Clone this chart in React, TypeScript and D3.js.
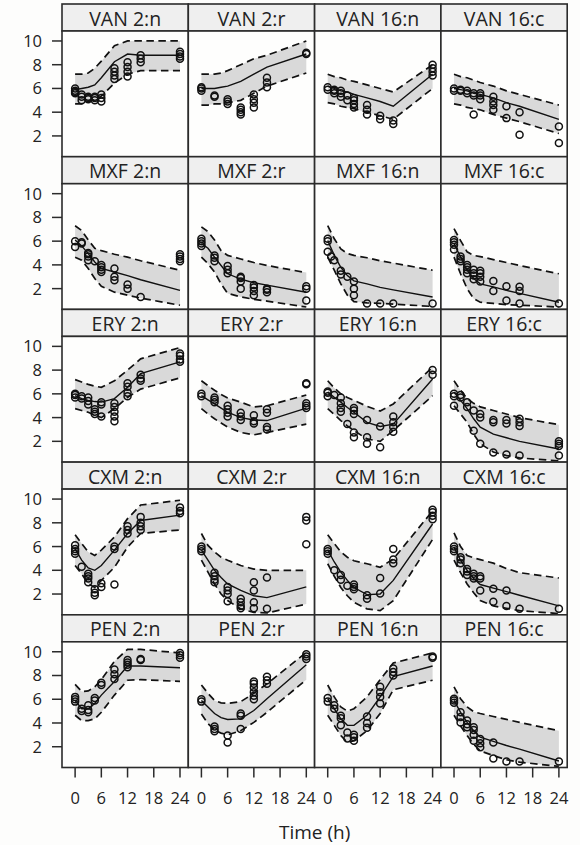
import React from "react";
import * as d3 from "d3";

// panels are drug (rows) x regimen (columns)
const drugs = ["VAN", "MXF", "ERY", "CXM", "PEN"];
const regimens = ["2:n", "2:r", "16:n", "16:c"];

const xTicks = [0, 6, 12, 18, 24];
const yTicks = [2, 4, 6, 8, 10];

// times at which the prediction interval is drawn
const knotTimes = [0, 1.5, 3, 4.5, 6, 9, 12, 15, 24];

// 95% PI upper bound, one row per panel (row-major)
const upper = [
  [7.2, 7.2, 7.3, 7.7, 8.3, 9.6, 10.0, 10.0, 10.0],
  [7.2, 7.2, 7.2, 7.3, 7.5, 8.0, 8.5, 8.8, 10.0],
  [7.2, 7.0, 6.9, 6.7, 6.6, 6.3, 6.0, 5.7, 8.0],
  [7.2, 7.0, 6.9, 6.7, 6.5, 6.2, 5.8, 5.5, 4.6],
  [7.3, 6.9, 6.1, 5.4, 5.2, 4.9, 4.65, 4.35, 3.55],
  [7.2, 6.8, 6.1, 5.2, 4.8, 4.5, 4.2, 3.95, 3.35],
  [7.3, 6.2, 5.35, 4.95, 4.8, 4.6, 4.35, 4.15, 3.55],
  [7.05, 6.05, 5.1, 4.8, 4.7, 4.45, 4.2, 3.95, 3.25],
  [7.2, 7.0, 6.8, 6.65, 6.55, 7.1, 8.0, 8.95, 9.9],
  [7.1, 6.7, 6.3, 5.95, 5.65, 5.3, 4.9, 5.0, 5.9],
  [7.1, 6.5, 6.0, 5.7, 5.45, 4.95, 4.55, 5.15, 8.25],
  [7.1, 6.3, 5.6, 5.2, 4.9, 4.6, 4.3, 4.0, 3.4],
  [7.0, 6.25, 5.55, 5.25, 5.7, 6.8, 8.35, 9.5, 9.9],
  [7.1, 6.1, 5.55, 5.1, 4.85, 4.4, 4.1, 4.0, 4.0],
  [7.0, 6.25, 5.55, 5.1, 4.8, 4.55, 4.25, 4.95, 9.0],
  [7.15, 6.0, 5.25, 5.05, 4.9, 4.6, 4.15, 3.8, 3.35],
  [7.25, 6.65, 6.7, 7.05, 7.65, 9.2, 10.2, 10.2, 9.9],
  [7.2, 6.5, 5.9, 5.7, 5.65, 5.8, 6.5, 7.3, 9.95],
  [7.2, 6.2, 5.35, 5.0, 5.2, 6.2, 7.65, 9.05, 9.9],
  [7.05, 6.05, 5.35, 4.95, 4.8, 4.55, 4.3, 4.05, 3.35],
];

// median prediction
const median = [
  [5.9, 6.0, 6.1, 6.3, 6.9, 8.25, 8.9, 8.8, 8.8],
  [6.0, 6.0, 6.0, 6.1, 6.2, 6.6, 7.2, 7.8, 8.9],
  [6.2, 6.0, 5.8, 5.7, 5.5, 5.2, 4.9, 4.5, 7.2],
  [6.0, 5.9, 5.8, 5.6, 5.5, 5.2, 4.8, 4.5, 3.4],
  [6.1, 5.6, 4.95, 4.25, 3.7, 3.4, 3.1, 2.75, 1.85],
  [5.8, 5.4, 4.65, 3.95, 3.25, 2.8, 2.5, 2.3, 1.7],
  [6.05, 4.8, 3.8, 3.1, 2.65, 2.4, 2.1, 1.9, 1.3],
  [5.8, 4.65, 3.55, 2.85, 2.4, 2.15, 1.85, 1.6, 0.85],
  [5.85, 5.6, 5.45, 5.35, 5.3, 5.6, 6.55, 7.7, 8.7],
  [5.85, 5.5, 5.15, 4.8, 4.45, 4.0, 3.8, 3.75, 4.8],
  [6.15, 5.7, 5.3, 4.85, 4.45, 3.6, 3.25, 3.45, 7.25],
  [6.15, 5.45, 4.75, 3.9, 3.2, 2.6, 2.3, 2.0, 1.35],
  [5.8, 4.85, 4.2, 4.0, 4.4, 5.7, 7.1, 8.2, 8.65],
  [5.7, 4.85, 4.0, 3.4, 2.85, 2.3, 1.85, 1.7, 2.6],
  [5.7, 4.7, 3.85, 3.15, 2.55, 1.95, 2.0, 3.15, 7.9],
  [5.95, 4.85, 4.0, 3.3, 2.8, 2.5, 2.2, 1.9, 1.0],
  [5.9, 5.2, 5.2, 5.65, 6.35, 7.5, 8.8, 8.8, 8.65],
  [5.9, 5.35, 4.8, 4.45, 4.3, 4.35, 5.05, 6.05, 8.9],
  [6.05, 5.2, 4.35, 3.8, 3.8, 4.65, 6.2, 7.9, 8.8],
  [5.9, 4.9, 4.05, 3.35, 2.8, 2.45, 2.1, 1.8, 0.8],
];

// 95% PI lower bound
const lower = [
  [4.7, 4.7, 4.9, 5.05, 5.35, 6.45, 7.2, 7.5, 7.5],
  [4.6, 4.6, 4.7, 4.7, 4.8, 5.0, 5.6, 6.2, 7.3],
  [4.8, 4.7, 4.5, 4.4, 4.3, 4.0, 3.7, 3.4, 6.0],
  [4.7, 4.6, 4.4, 4.3, 4.2, 3.8, 3.5, 3.2, 2.2],
  [4.65, 4.4, 3.7, 2.85, 2.2, 1.7, 1.45, 1.2, 0.6],
  [4.65, 4.1, 3.4, 2.4, 1.6, 1.3, 1.1, 0.95, 0.45],
  [4.65, 3.55, 2.4, 1.45, 0.9, 0.8, 0.75, 0.7, 0.5],
  [4.65, 3.25, 2.0, 1.15, 0.85, 0.75, 0.65, 0.6, 0.45],
  [4.75, 4.6, 4.45, 4.2, 4.0, 4.75, 5.7, 6.4, 7.35],
  [4.75, 4.3, 3.9, 3.55, 3.2, 2.75, 2.55, 2.75, 3.45],
  [4.75, 4.25, 3.75, 3.3, 2.9, 2.2, 2.0, 2.9, 5.85],
  [5.0, 4.3, 3.6, 2.6, 1.8, 1.1, 0.8, 0.6, 0.35],
  [4.4, 3.7, 2.85, 2.55, 3.15, 4.25, 5.95, 7.1, 7.4],
  [4.85, 3.85, 2.85, 2.0, 1.45, 0.75, 0.45, 0.4, 1.15],
  [4.55, 3.5, 2.55, 1.85, 1.3, 0.75, 0.6, 1.45, 6.6],
  [4.85, 3.8, 2.85, 2.1, 1.45, 1.0, 0.8, 0.6, 0.35],
  [4.65, 4.2, 4.2, 4.35, 4.9, 6.35, 7.6, 7.65, 7.5],
  [4.75, 3.95, 3.4, 3.15, 3.0, 3.35, 4.05, 4.9, 7.65],
  [4.65, 3.8, 2.95, 2.35, 2.5, 3.35, 4.8, 6.8, 7.6],
  [4.65, 3.75, 2.95, 2.2, 1.65, 1.25, 0.9, 0.7, 0.35],
];

// observed log10 CFU/mL, [time, value]
const observed: [number, number][][] = [
  [[0,5.6],[0,5.8],[0,6.0],[0,5.7],[1.5,5.0],[1.5,5.3],[1.5,5.5],[3,5.1],[3,5.2],[3,5.3],[4.5,5.0],[4.5,5.2],[4.5,5.3],[6,4.9],[6,5.2],[6,5.5],[9,6.8],[9,7.1],[9,7.4],[9,7.7],[12,7.0],[12,7.4],[12,7.8],[12,8.2],[15,8.2],[15,8.5],[15,8.8],[24,8.5],[24,8.7],[24,8.9],[24,9.1]],
  [[0,5.8],[0,6.0],[0,6.1],[3,5.3],[3,5.4],[6,4.7],[6,4.9],[6,5.1],[9,3.8],[9,4.0],[9,4.2],[9,4.4],[12,4.4],[12,4.8],[12,5.1],[12,5.5],[15,6.1],[15,6.5],[15,6.9],[24,8.9],[24,9.0]],
  [[0,5.9],[0,6.1],[1.5,5.6],[1.5,5.8],[1.5,5.9],[3,5.3],[3,5.6],[3,5.8],[4.5,5.0],[4.5,5.4],[6,4.4],[6,4.7],[6,5.0],[6,5.2],[9,3.8],[9,4.2],[9,4.6],[12,3.4],[12,3.7],[15,3.0],[15,3.3],[24,7.1],[24,7.4],[24,7.7],[24,8.0]],
  [[0,5.8],[0,6.0],[1.5,5.8],[1.5,5.9],[3,5.6],[3,5.8],[4.5,5.4],[4.5,5.6],[4.5,3.8],[6,5.1],[6,5.4],[6,5.6],[9,4.2],[9,4.6],[9,4.9],[9,5.3],[12,4.5],[12,3.5],[15,4.0],[15,2.1],[24,2.8],[24,1.4]],
  [[0,5.5],[0,6.0],[1.5,5.8],[1.5,5.9],[3,4.4],[3,4.7],[3,4.9],[3,5.0],[4.5,4.3],[6,3.4],[6,3.6],[6,3.8],[6,4.0],[9,2.7],[9,3.0],[9,3.7],[12,2.0],[12,2.35],[15,1.3],[24,4.3],[24,4.5],[24,4.7],[24,4.9]],
  [[0,5.6],[0,5.8],[0,6.0],[0,6.2],[3,4.3],[3,4.6],[3,4.8],[6,3.3],[6,3.6],[6,3.9],[9,2.0],[9,2.6],[9,2.9],[9,3.0],[12,1.45],[12,1.8],[12,2.1],[12,2.3],[15,1.7],[15,1.9],[15,2.0],[24,1.0],[24,2.0],[24,2.2]],
  [[0,6.0],[0,6.2],[0,5.1],[0.8,4.7],[1.5,4.4],[3,3.5],[3,3.2],[4.5,3.0],[6,2.6],[6,2.0],[6,1.45],[9,0.75],[12,0.75],[15,0.75],[24,0.75]],
  [[0,5.3],[0,5.7],[0,5.9],[0,6.1],[1.5,4.3],[1.5,4.5],[1.5,4.7],[3,3.3],[3,3.6],[3,3.8],[3,4.0],[4.5,2.8],[4.5,3.1],[4.5,3.3],[4.5,3.6],[6,2.6],[6,3.0],[6,3.3],[6,3.5],[9,2.65],[9,1.8],[12,2.2],[12,1.0],[15,2.15],[15,1.8],[15,0.75],[24,0.75]],
  [[0,5.7],[0,5.9],[0,6.0],[1.5,5.6],[1.5,5.8],[3,5.1],[3,5.4],[3,5.7],[4.5,4.3],[4.5,4.5],[4.5,4.7],[6,4.1],[6,5.1],[6,5.3],[9,3.7],[9,4.1],[9,4.5],[9,4.9],[9,5.2],[12,5.8],[12,6.1],[12,6.6],[12,6.9],[15,7.1],[15,7.3],[15,7.6],[24,8.7],[24,8.9],[24,9.2],[24,9.4]],
  [[0,5.8],[0,6.0],[3,5.3],[3,5.5],[3,5.7],[6,4.1],[6,4.4],[6,4.7],[6,5.0],[9,3.8],[9,4.1],[9,4.4],[12,3.5],[12,3.7],[12,4.2],[15,3.0],[15,3.2],[15,4.4],[15,4.7],[24,6.8],[24,6.9],[24,4.8],[24,5.0],[24,5.2]],
  [[0,5.8],[0,6.1],[0,6.2],[1.5,5.9],[3,5.7],[3,5.2],[3,4.8],[3,4.5],[4.5,3.45],[6,4.3],[6,4.6],[6,4.8],[6,2.75],[6,2.35],[9,3.8],[9,2.35],[9,1.8],[12,3.25],[12,1.5],[15,2.8],[15,3.2],[15,3.6],[15,4.1],[24,7.6],[24,8.0]],
  [[0,5.8],[0,6.0],[0,5.0],[1.5,5.7],[1.5,5.9],[3,4.9],[3,5.3],[4.5,4.6],[4.5,2.9],[6,4.0],[6,4.3],[6,1.8],[9,3.6],[9,3.8],[9,1.05],[12,3.5],[12,3.8],[12,0.9],[15,3.3],[15,3.6],[15,3.9],[15,0.8],[24,1.6],[24,1.8],[24,2.0],[24,0.8]],
  [[0,5.4],[0,5.6],[0,5.8],[0,6.1],[1.5,4.3],[3,3.0],[3,3.3],[3,3.5],[3,3.7],[4.5,1.9],[4.5,2.1],[4.5,2.4],[6,2.6],[6,2.9],[9,5.8],[9,6.0],[9,2.8],[12,7.1],[12,7.4],[12,7.7],[15,7.4],[15,7.7],[15,8.0],[15,8.5],[24,8.8],[24,9.0],[24,9.3]],
  [[0,5.6],[0,5.8],[0,6.0],[3,3.0],[3,3.2],[3,3.5],[3,3.8],[6,1.4],[6,2.0],[6,2.3],[6,2.6],[9,0.8],[9,1.0],[9,1.3],[9,1.6],[12,0.8],[12,1.3],[12,2.3],[12,3.0],[15,3.4],[15,0.75],[24,8.2],[24,8.5],[24,6.2]],
  [[0,5.4],[0,5.6],[0,5.8],[1.5,4.0],[3,3.6],[3,3.2],[4.5,2.7],[6,2.4],[6,2.6],[6,2.8],[9,1.6],[9,1.9],[12,2.05],[12,3.35],[15,4.6],[15,4.9],[15,5.8],[24,8.3],[24,8.6],[24,8.9],[24,9.1]],
  [[0,5.6],[0,5.8],[0,6.0],[1.5,4.6],[1.5,4.9],[1.5,5.1],[3,3.6],[3,3.9],[3,4.1],[4.5,3.3],[4.5,3.5],[4.5,3.7],[6,2.3],[6,3.3],[6,3.5],[9,2.45],[9,1.35],[12,2.3],[12,1.0],[15,0.75],[24,0.75]],
  [[0,5.8],[0,6.0],[0,6.2],[1.5,5.0],[1.5,5.2],[3,4.9],[3,5.1],[3,5.5],[4.5,5.9],[4.5,6.1],[6,7.2],[6,7.4],[9,7.7],[9,8.1],[9,8.5],[12,8.7],[12,8.9],[12,9.1],[12,9.3],[15,9.3],[15,9.4],[24,9.5],[24,9.7],[24,9.9]],
  [[0,5.8],[0,6.0],[3,3.3],[3,3.5],[3,3.7],[6,2.35],[6,2.95],[9,3.5],[9,4.6],[9,4.8],[12,6.0],[12,6.3],[12,6.6],[12,7.0],[12,7.3],[12,7.5],[15,7.3],[15,7.6],[15,7.9],[24,9.4],[24,9.6],[24,9.8]],
  [[0,5.8],[0,6.1],[1.5,5.2],[1.5,5.5],[3,4.4],[3,4.6],[3,3.8],[4.5,3.2],[4.5,2.7],[6,2.5],[6,2.8],[6,3.0],[9,4.55],[9,3.6],[9,4.0],[12,5.65],[12,6.2],[12,6.6],[12,7.05],[15,8.0],[15,8.3],[15,8.6],[24,9.5],[24,9.6]],
  [[0,5.7],[0,5.9],[0,6.05],[1.5,4.05],[1.5,4.5],[1.5,4.9],[3,3.65],[3,3.9],[3,4.2],[4.5,2.5],[4.5,3.0],[4.5,3.4],[4.5,3.65],[6,1.95],[6,2.3],[6,2.65],[9,2.35],[9,1.0],[12,0.75],[15,0.75],[24,0.75]],
];

const W = 580;
const H = 845;
const gridLeft = 62;
const gridTop = 4;
const panelW = 126.3;
const stripH = 27;
const plotH = 125.7;
const rowH = stripH + plotH;
const font = "'Open Sans', 'Noto Sans', sans-serif";
const ink = "#2b2b2b";

const App = () => {
  const x = d3.scaleLinear().domain([-3, 25.9]).range([0, panelW]);
  const y = d3.scaleLinear().domain([0.25, 10.84]).range([plotH, 0]);

  const line = d3.line<number>()
    .x((d, i) => x(knotTimes[i]))
    .y(d => y(d));

  const gridBottom = gridTop + drugs.length * rowH;
  const gridRight = gridLeft + regimens.length * panelW;

  return (
    <svg width={W} height={H} style={{ position: "absolute", left: 0, top: 0, background: "#fdfdfc" }}
      fontFamily={font}>
      <defs>
        <clipPath id="plotClip">
          <rect x={0} y={0} width={panelW} height={plotH} />
        </clipPath>
      </defs>
      {drugs.map((drug, r) =>
        regimens.map((reg, c) => {
          const idx = r * regimens.length + c;
          const up = upper[idx];
          const lo = lower[idx];
          const area = d3.area<number>()
            .x((d, i) => x(knotTimes[i]))
            .y0((d, i) => y(lo[i]))
            .y1(d => y(d));
          const px = gridLeft + c * panelW;
          const py = gridTop + r * rowH;
          return (
            <g key={idx} transform={`translate(${px},${py})`}>
              <rect x={0} y={0} width={panelW} height={stripH} fill="#efefef" stroke={ink} strokeWidth={1.6} />
              <text x={panelW / 2} y={21.5} textAnchor="middle" fontSize={19.5} fill="#222">
                {`${drug} ${reg}`}
              </text>
              <g transform={`translate(0,${stripH})`}>
                <rect x={0} y={0} width={panelW} height={plotH} fill="#fefefd" />
                <g clipPath="url(#plotClip)">
                  <path d={area(up) ?? ""} fill="#d9d9d9" />
                  <path d={line(up) ?? ""} fill="none" stroke="#111" strokeWidth={1.7} strokeDasharray="7.5,4.5" />
                  <path d={line(lo) ?? ""} fill="none" stroke="#111" strokeWidth={1.7} strokeDasharray="7.5,4.5" />
                  <path d={line(median[idx]) ?? ""} fill="none" stroke="#111" strokeWidth={1.4} />
                </g>
                {observed[idx].map((o, k) => (
                  <circle key={k} cx={x(o[0])} cy={y(o[1])} r={3.5} fill="none" stroke="#111" strokeWidth={1.5} />
                ))}
                <rect x={0} y={0} width={panelW} height={plotH} fill="none" stroke={ink} strokeWidth={1.6} />
              </g>
            </g>
          );
        })
      )}
      {/* y axis, repeated for each row */}
      {drugs.map((drug, r) => (
        <g key={`ya${r}`} transform={`translate(${gridLeft},${gridTop + r * rowH + stripH})`}>
          {yTicks.map(t => (
            <g key={t} transform={`translate(0,${y(t)})`}>
              <line x1={-10} x2={0} stroke={ink} strokeWidth={1.5} />
              <text x={-20} dy="0.36em" textAnchor="end" fontSize={16.5} fill="#222">{t}</text>
            </g>
          ))}
        </g>
      ))}
      {/* x axis, bottom row only */}
      {regimens.map((reg, c) => (
        <g key={`xa${c}`} transform={`translate(${gridLeft + c * panelW},${gridBottom})`}>
          {xTicks.map(t => (
            <g key={t} transform={`translate(${x(t)},0)`}>
              <line y1={0} y2={10} stroke={ink} strokeWidth={1.5} />
              <text y={36} textAnchor="middle" fontSize={16.5} fill="#222">{t}</text>
            </g>
          ))}
        </g>
      ))}
      <text x={(gridLeft + gridRight) / 2} y={839} textAnchor="middle" fontSize={19} fill="#222">
        Time (h)
      </text>
    </svg>
  );
};

export default App;
